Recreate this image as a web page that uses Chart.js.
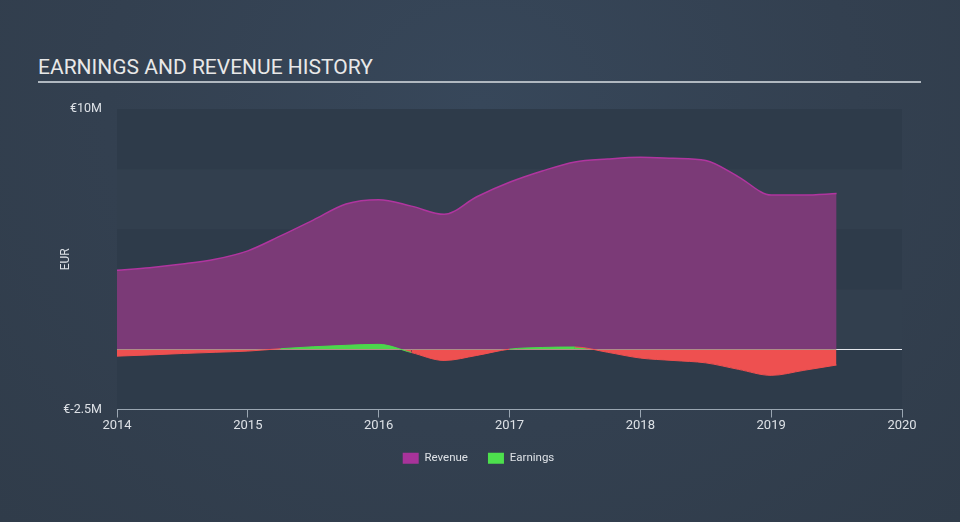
<!DOCTYPE html>
<html lang="en">
<head>
    <meta charset="UTF-8">
    <title>Earnings and Revenue History</title>
    <style>
        body {
            margin: 0;
            padding: 0;
            width: 960px;
            height: 522px;
            overflow: hidden;
            font-family: Roboto, Arial, sans-serif;
            background: radial-gradient(ellipse at 50% 20%, #37475a 0%, #334050 55%, #303c4a 100%);
        }
        .title {
            position: absolute;
            left: 38px;
            top: 55px;
            width: 883px;
            color: #e8e8e8;
            font-size: 21px;
            line-height: 25px;
            padding-bottom: 1px;
            border-bottom: 2px solid #b0b8c0;
        }
        .wrap {
            position: absolute;
            left: 0;
            top: 0;
            width: 960px;
            height: 522px;
        }
    </style>
    <script src="https://cdn.jsdelivr.net/npm/chart.js"></script>
</head>
<body>
    <div class="title">EARNINGS AND REVENUE HISTORY</div>
    <div class="wrap"><canvas id="historyChart" width="960" height="522"></canvas></div>

    <script>
        // quarterly points, in EUR millions
        const years = [2014, 2014.25, 2014.5, 2014.75, 2015, 2015.25, 2015.5, 2015.75,
                       2016, 2016.25, 2016.5, 2016.75, 2017, 2017.25, 2017.5, 2017.75,
                       2018, 2018.25, 2018.5, 2018.75, 2019, 2019.25, 2019.5];
        const revenue = [3.29, 3.40, 3.55, 3.75, 4.10, 4.72, 5.38, 6.05,
                         6.23, 5.96, 5.62, 6.35, 6.95, 7.42, 7.80, 7.92,
                         7.99, 7.95, 7.86, 7.18, 6.42, 6.42, 6.48];
        const earnings = [-0.28, -0.23, -0.17, -0.12, -0.07, 0.03, 0.11, 0.17,
                          0.21, -0.13, -0.46, -0.25, 0.01, 0.08, 0.10, -0.12,
                          -0.36, -0.46, -0.56, -0.83, -1.08, -0.87, -0.65];
        const yTickLabels = { '10': '€10M', '-2.5': '€-2.5M' };

        const toPoints = vals => vals.map((v, i) => ({ x: years[i], y: v }));

        // alternating shaded bands behind the plot
        const bands = {
            id: 'bands',
            beforeDraw(chart) {
                const { ctx, chartArea, scales } = chart;
                const y = scales.y;
                const steps = [-2.5, 0, 2.5, 5, 7.5];
                steps.forEach((v, i) => {
                    const top = y.getPixelForValue(v + 2.5);
                    const bottom = y.getPixelForValue(v);
                    ctx.fillStyle = i % 2 === 0 ? '#2e3b4a' : '#323f4e';
                    ctx.fillRect(chartArea.left, top, chartArea.right - chartArea.left, bottom - top);
                });
            }
        };

        const green = '#4cd84c';
        const red = '#ee5050';

        new Chart(document.getElementById('historyChart'), {
            type: 'line',
            data: {
                datasets: [
                    {
                        label: 'Revenue',
                        data: toPoints(revenue),
                        borderColor: '#b0359f',
                        backgroundColor: '#7b3a77',
                        borderWidth: 1.5,
                        fill: 'origin',
                        pointRadius: 0,
                        cubicInterpolationMode: 'monotone',
                        order: 1
                    },
                    {
                        label: 'Earnings',
                        data: toPoints(earnings),
                        borderColor: red,
                        backgroundColor: green,
                        borderWidth: 1,
                        fill: { target: 'origin', above: green, below: red },
                        pointRadius: 0,
                        cubicInterpolationMode: 'monotone',
                        segment: {
                            borderColor: ctx => (ctx.p0.parsed.y + ctx.p1.parsed.y) / 2 >= 0 ? green : red
                        },
                        order: 0
                    }
                ]
            },
            options: {
                responsive: false,
                animation: false,
                layout: {
                    padding: { top: 109, left: 55, right: 58, bottom: 48 }
                },
                scales: {
                    x: {
                        type: 'linear',
                        min: 2014,
                        max: 2020,
                        afterFit: s => { s.height = 23; },
                        ticks: {
                            stepSize: 1,
                            padding: 0,
                            maxRotation: 0,
                            color: '#dde1e6',
                            font: { family: 'Roboto', size: 13 },
                            callback: v => String(v)
                        },
                        grid: {
                            drawOnChartArea: false,
                            drawTicks: true,
                            tickLength: 8,
                            color: '#9aa6b2'
                        },
                        border: { color: '#9aa6b2', width: 1 }
                    },
                    y: {
                        min: -2.5,
                        max: 10,
                        afterFit: s => { s.width = 62; },
                        ticks: {
                            stepSize: 2.5,
                            padding: 15,
                            color: '#dde1e6',
                            font: { family: 'Roboto', size: 12.5 },
                            callback: v => yTickLabels[String(v)] || ''
                        },
                        grid: {
                            drawTicks: false,
                            color: ctx => ctx.tick && ctx.tick.value === 0 ? '#e6e9ee' : 'rgba(0,0,0,0)',
                            lineWidth: 1
                        },
                        border: { display: false },
                        title: {
                            display: true,
                            text: 'EUR',
                            color: '#dde1e6',
                            font: { family: 'Roboto', size: 12 }
                        }
                    }
                },
                plugins: {
                    tooltip: { enabled: false },
                    legend: {
                        position: 'bottom',
                        labels: {
                            boxWidth: 16,
                            boxHeight: 11,
                            padding: 20,
                            color: '#dde1e6',
                            font: { family: 'Roboto', size: 11.5 },
                            sort: (a, b) => a.datasetIndex - b.datasetIndex,
                            generateLabels(chart) {
                                const items = Chart.defaults.plugins.legend.labels.generateLabels(chart);
                                items.forEach(it => {
                                    it.fillStyle = it.datasetIndex === 0 ? '#a8339a' : '#4de04d';
                                    it.lineWidth = 0;
                                    it.strokeStyle = 'rgba(0,0,0,0)';
                                });
                                return items;
                            }
                        }
                    }
                }
            },
            plugins: [bands]
        });
    </script>
</body>
</html>
